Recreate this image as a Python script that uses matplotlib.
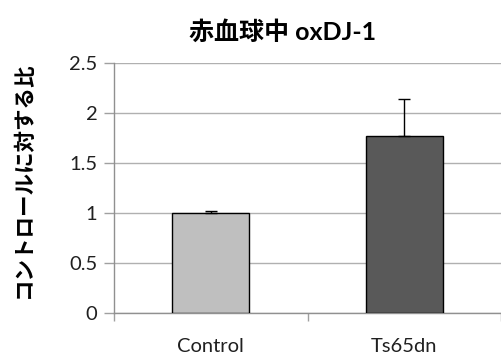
import matplotlib
matplotlib.use("Agg")
import matplotlib.pyplot as plt
from matplotlib.ticker import FixedLocator

categories = ["Control", "Ts65dn"]
values = [1.0, 1.77]
errors = [0.02, 0.37]
colors = ["#bfbfbf", "#595959"]
yticks = [0, 0.5, 1, 1.5, 2, 2.5]
ytick_labels = ["0", "0.5", "1", "1.5", "2", "2.5"]
title = "赤血球中 oxDJ-1"
ylabel = "コントロールに対する比"

fam = ["Lato", "Noto Sans CJK JP", "DejaVu Sans"]
plt.rcParams["font.family"] = fam

W, H = 501, 354
fig = plt.figure(figsize=(W / 100, H / 100), dpi=100)
ax = fig.add_axes([114 / W, (H - 313) / H, (501 - 114) / W, 250 / H])

x = list(range(len(categories)))
ax.bar(x, values, width=0.4, color=colors, edgecolor="black", linewidth=1, zorder=3)
ax.errorbar(x, values, yerr=[[0] * len(errors), errors], fmt="none",
            ecolor="black", elinewidth=1, capsize=4, capthick=1, zorder=4)

ax.set_xlim(-0.5, len(categories) - 0.5)
ax.set_ylim(0, 2.5)
ax.set_yticks(yticks)
ax.set_yticklabels(ytick_labels, fontsize=14.5, color="#202020")
ax.set_xticks(x)
ax.set_xticklabels(categories, fontsize=14.5, color="#202020")
ax.xaxis.set_minor_locator(FixedLocator([-0.5 + i for i in range(len(categories) + 1)]))
ax.tick_params(axis="x", which="major", length=0, pad=18)
ax.tick_params(axis="x", which="minor", length=6, color="#a0a0a0", width=1)
ax.tick_params(axis="y", length=7, color="#a0a0a0", width=1, pad=5)

ax.grid(axis="y", color="#b0b0b0", linewidth=1, zorder=0)
ax.set_axisbelow(True)
for s in ["top", "right"]:
    ax.spines[s].set_visible(False)
for s in ["left", "bottom"]:
    ax.spines[s].set_color("#909090")
    ax.spines[s].set_linewidth(1)

fig.text(283 / W, 1 - 32 / H, title, ha="center", va="center",
         fontsize=18, fontweight="bold")
fig.text(23 / W, 1 - 180 / H, ylabel, ha="center", va="center", rotation=90,
         fontsize=15.5, fontweight="bold")

fig.savefig("out.png", dpi=100)
